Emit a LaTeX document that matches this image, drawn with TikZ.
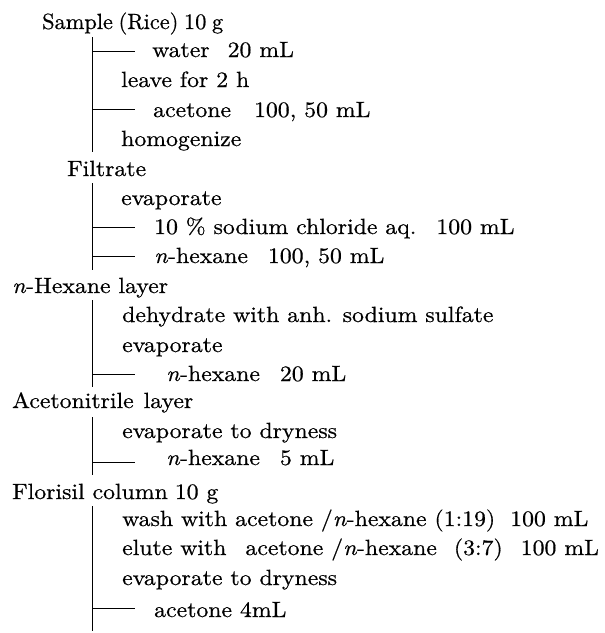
\documentclass[tikz,border=0pt]{standalone}
\usepackage{fontspec}
\newfontfamily\cent{lmroman10-regular}[Extension=.otf, ItalicFont=lmroman10-italic, FakeStretch=1.08, FakeBold=0.6]
\newcommand\mainfnt{\cent\fontsize{22}{26}\selectfont}
\newcommand\nhex{\textit{n}-hexane}
\begin{document}
\begin{tikzpicture}[x=1pt,y=-1pt,
  lbl/.style={inner sep=0pt, anchor=base west, font=\mainfnt},
  trunk/.style={line width=1pt, line cap=butt}]
\useasboundingbox (0,0) rectangle (605,633);
% headers
\node[lbl] (h1) at (42,29) {\scalebox{0.94}[1]{Sample\hspace{6pt}(Rice)\hspace{6pt}10\hspace{6pt}g}};
\node[lbl] (h2) at (67,176) {Filtrate};
\node[lbl] (h3) at (12,293) {\textit{n}-Hexane layer};
\node[lbl] (h4) at (12,408) {Acetonitrile\hspace{10pt}layer};
\node[lbl] (h5) at (12,499) {Florisil column\hspace{7pt}10 g};
% steps block 1
\node[lbl] (a1) at (152,57) {water\hspace{18pt}20 mL};
\node[lbl] (a2) at (121,87) {leave for 2 h};
\node[lbl] (a3) at (153,117) {acetone\hspace{23pt}100, 50 mL};
\node[lbl] (a4) at (121,146) {homogenize};
% block 2
\node[lbl] (c1) at (121,205) {evaporate};
\node[lbl] (c2) at (154,234) {10 \% sodium chloride aq.\hspace{20pt}100 mL};
\node[lbl] (c3) at (154,263) {\nhex\hspace{20pt}100, 50 mL};
% block 3
\node[lbl] (d1) at (122,322) {dehydrate with anh. sodium sulfate};
\node[lbl] (d2) at (122,352) {evaporate};
\node[lbl] (d3) at (166,381) {\nhex\hspace{20pt}20 mL};
% block 4
\node[lbl] (e1) at (122,438) {evaporate to dryness};
\node[lbl] (e2) at (166,465) {\nhex\hspace{20pt}5 mL};
% block 5
\node[lbl] (f1) at (122,526) {wash with acetone /\nhex{} (1:19)\hspace{15pt}100 mL};
\node[lbl] (f2) at (122,555) {elute with\hspace{19pt}acetone /\nhex\hspace{17pt}(3:7)\hspace{18pt}100 mL};
\node[lbl] (f3) at (122,585) {evaporate to dryness};
\node[lbl] (f4) at (154,617) {acetone 4mL};
% trunk coordinates
\coordinate (t1s) at (92.5,37);  \coordinate (t1e) at (92.5,152);
\coordinate (t2s) at (92.5,183); \coordinate (t2e) at (92.5,270);
\coordinate (t3s) at (92.5,300); \coordinate (t3e) at (92.5,387);
\coordinate (t4s) at (92.5,417); \coordinate (t4e) at (92.5,475);
\coordinate (t5s) at (92.5,506); \coordinate (t5e) at (92.5,631);
\draw[trunk] (t1s) -- (t1e);
\draw[trunk] (t2s) -- (t2e);
\draw[trunk] (t3s) -- (t3e);
\draw[trunk] (t4s) -- (t4e);
\draw[trunk] (t5s) -- (t5e);
% branch coordinates
\coordinate (b1) at (92.5,51);  \coordinate (b1e) at (135,51);
\coordinate (b2) at (92.5,109); \coordinate (b2e) at (135,109);
\coordinate (b3) at (92.5,227); \coordinate (b3e) at (135,227);
\coordinate (b4) at (92.5,256); \coordinate (b4e) at (135,256);
\coordinate (b5) at (92.5,374); \coordinate (b5e) at (135,374);
\coordinate (b6) at (92.5,462); \coordinate (b6e) at (135,462);
\coordinate (b7) at (92.5,608); \coordinate (b7e) at (135,608);
\foreach \b in {b1,b2,b3,b4,b5,b6,b7} \draw[trunk] (\b) -- (\b e);
\end{tikzpicture}
\end{document}
